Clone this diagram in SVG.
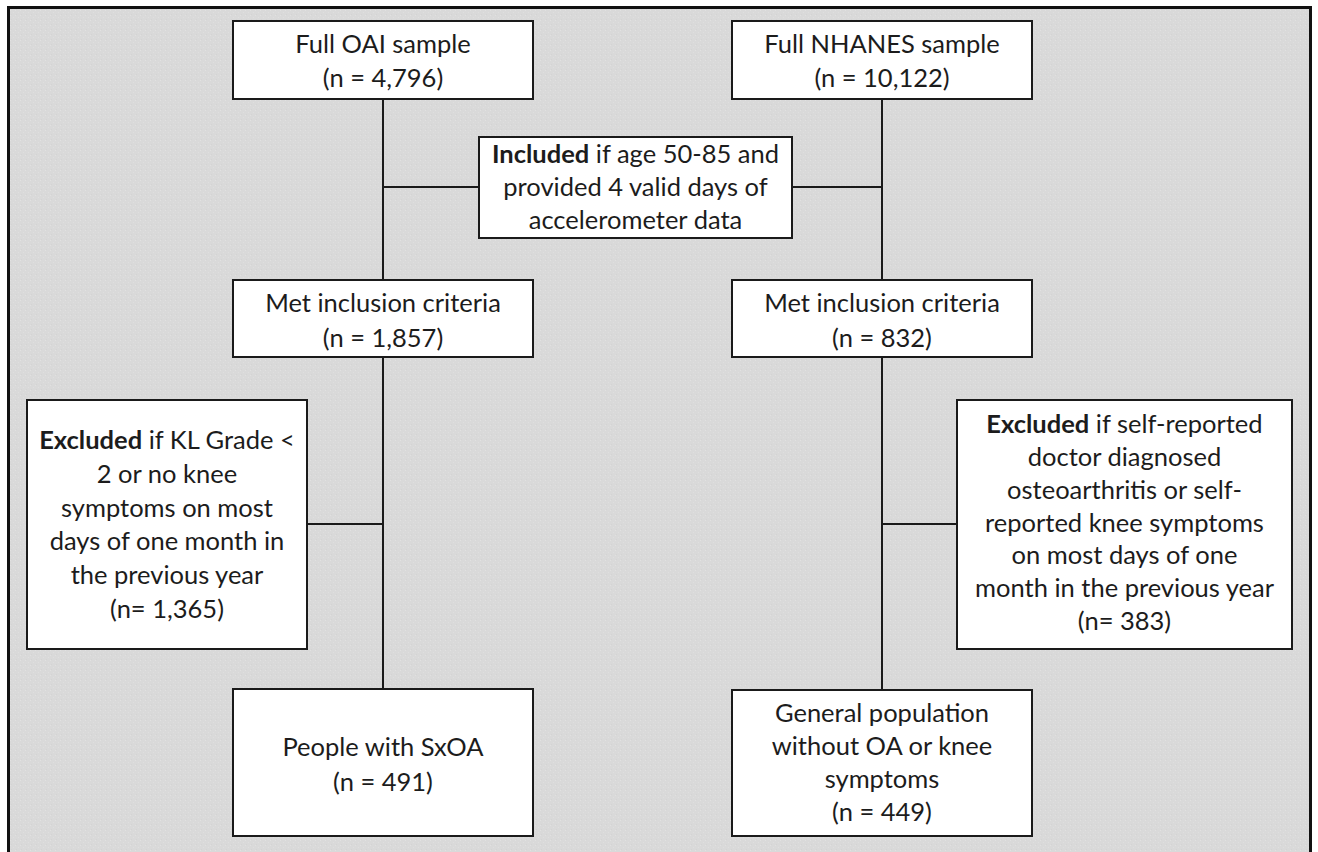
<svg xmlns="http://www.w3.org/2000/svg" width="1318" height="852" viewBox="0 0 1318 852">
  <defs>
    <pattern id="tex" x="0" y="0" width="5" height="5" patternUnits="userSpaceOnUse">
      <rect width="5" height="5" fill="#d9d9d9"/>
      <rect x="0" y="0" width="1" height="1" fill="#e1e1e1"/>
      <rect x="3" y="2" width="1" height="1" fill="#dfdfdf"/>
      <rect x="1" y="4" width="1" height="1" fill="#d3d3d3"/>
    </pattern>
    <style>
      .box { fill: #ffffff; stroke: #1a1a1a; stroke-width: 2; }
      .conn { fill: none; stroke: #1a1a1a; stroke-width: 2; }
      .t { font-family: Lato, "Liberation Sans", sans-serif; font-size: 25.5px; fill: #1c1c1c; text-anchor: middle; }
      .b { font-weight: bold; }
    </style>
  </defs>
  <rect x="0" y="0" width="1318" height="852" fill="#ffffff"/>
  <rect x="8" y="7" width="1303" height="845" fill="url(#tex)"/>
  <path d="M8.5 860 V7.5 H1310.5 V860" fill="none" stroke="#111111" stroke-width="3"/>

  <g id="connectors">
    <path class="conn" d="M383 99 V280"/>
    <path class="conn" d="M383 357 V689"/>
    <path class="conn" d="M383 187 H479"/>
    <path class="conn" d="M792 187 H882"/>
    <path class="conn" d="M307 524 H383"/>
    <path class="conn" d="M882 99 V280"/>
    <path class="conn" d="M882 357 V690"/>
    <path class="conn" d="M882 524 H957"/>
  </g>

  <g id="oai">
    <rect class="box" x="233" y="21" width="300" height="78"/>
    <text class="t" x="383" y="53">Full OAI sample</text>
    <text class="t" x="383" y="87">(n = 4,796)</text>
  </g>
  <g id="nhanes">
    <rect class="box" x="732" y="21" width="300" height="78"/>
    <text class="t" x="882" y="53">Full NHANES sample</text>
    <text class="t" x="882" y="87">(n = 10,122)</text>
  </g>
  <g id="included">
    <rect class="box" x="479" y="137" width="313" height="101"/>
    <text class="t" x="635.5" y="163"><tspan class="b">Included</tspan> if age 50-85 and</text>
    <text class="t" x="635.5" y="196">provided 4 valid days of</text>
    <text class="t" x="635.5" y="229">accelerometer data</text>
  </g>
  <g id="met-oai">
    <rect class="box" x="233" y="280" width="300" height="77"/>
    <text class="t" x="383" y="312">Met inclusion criteria</text>
    <text class="t" x="383" y="347">(n = 1,857)</text>
  </g>
  <g id="met-nhanes">
    <rect class="box" x="732" y="280" width="300" height="77"/>
    <text class="t" x="882" y="312">Met inclusion criteria</text>
    <text class="t" x="882" y="347">(n = 832)</text>
  </g>
  <g id="excluded-oai">
    <rect class="box" x="27" y="400" width="280" height="249"/>
    <text class="t" x="167" y="449"><tspan class="b">Excluded</tspan> if KL Grade &lt;</text>
    <text class="t" x="167" y="483">2 or no knee</text>
    <text class="t" x="167" y="517">symptoms on most</text>
    <text class="t" x="167" y="550">days of one month in</text>
    <text class="t" x="167" y="584">the previous year</text>
    <text class="t" x="167" y="618">(n= 1,365)</text>
  </g>
  <g id="excluded-nhanes">
    <rect class="box" x="957" y="400" width="335" height="249"/>
    <text class="t" x="1124.5" y="433"><tspan class="b">Excluded</tspan> if self-reported</text>
    <text class="t" x="1124.5" y="466">doctor diagnosed</text>
    <text class="t" x="1124.5" y="499">osteoarthritis or self-</text>
    <text class="t" x="1124.5" y="532">reported knee symptoms</text>
    <text class="t" x="1124.5" y="564">on most days of one</text>
    <text class="t" x="1124.5" y="597">month in the previous year</text>
    <text class="t" x="1124.5" y="630">(n= 383)</text>
  </g>
  <g id="sxoa">
    <rect class="box" x="233" y="689" width="300" height="147"/>
    <text class="t" x="383" y="756">People with SxOA</text>
    <text class="t" x="383" y="791">(n = 491)</text>
  </g>
  <g id="general">
    <rect class="box" x="732" y="690" width="300" height="146"/>
    <text class="t" x="882" y="722">General population</text>
    <text class="t" x="882" y="755">without OA or knee</text>
    <text class="t" x="882" y="788">symptoms</text>
    <text class="t" x="882" y="821">(n = 449)</text>
  </g>
</svg>
